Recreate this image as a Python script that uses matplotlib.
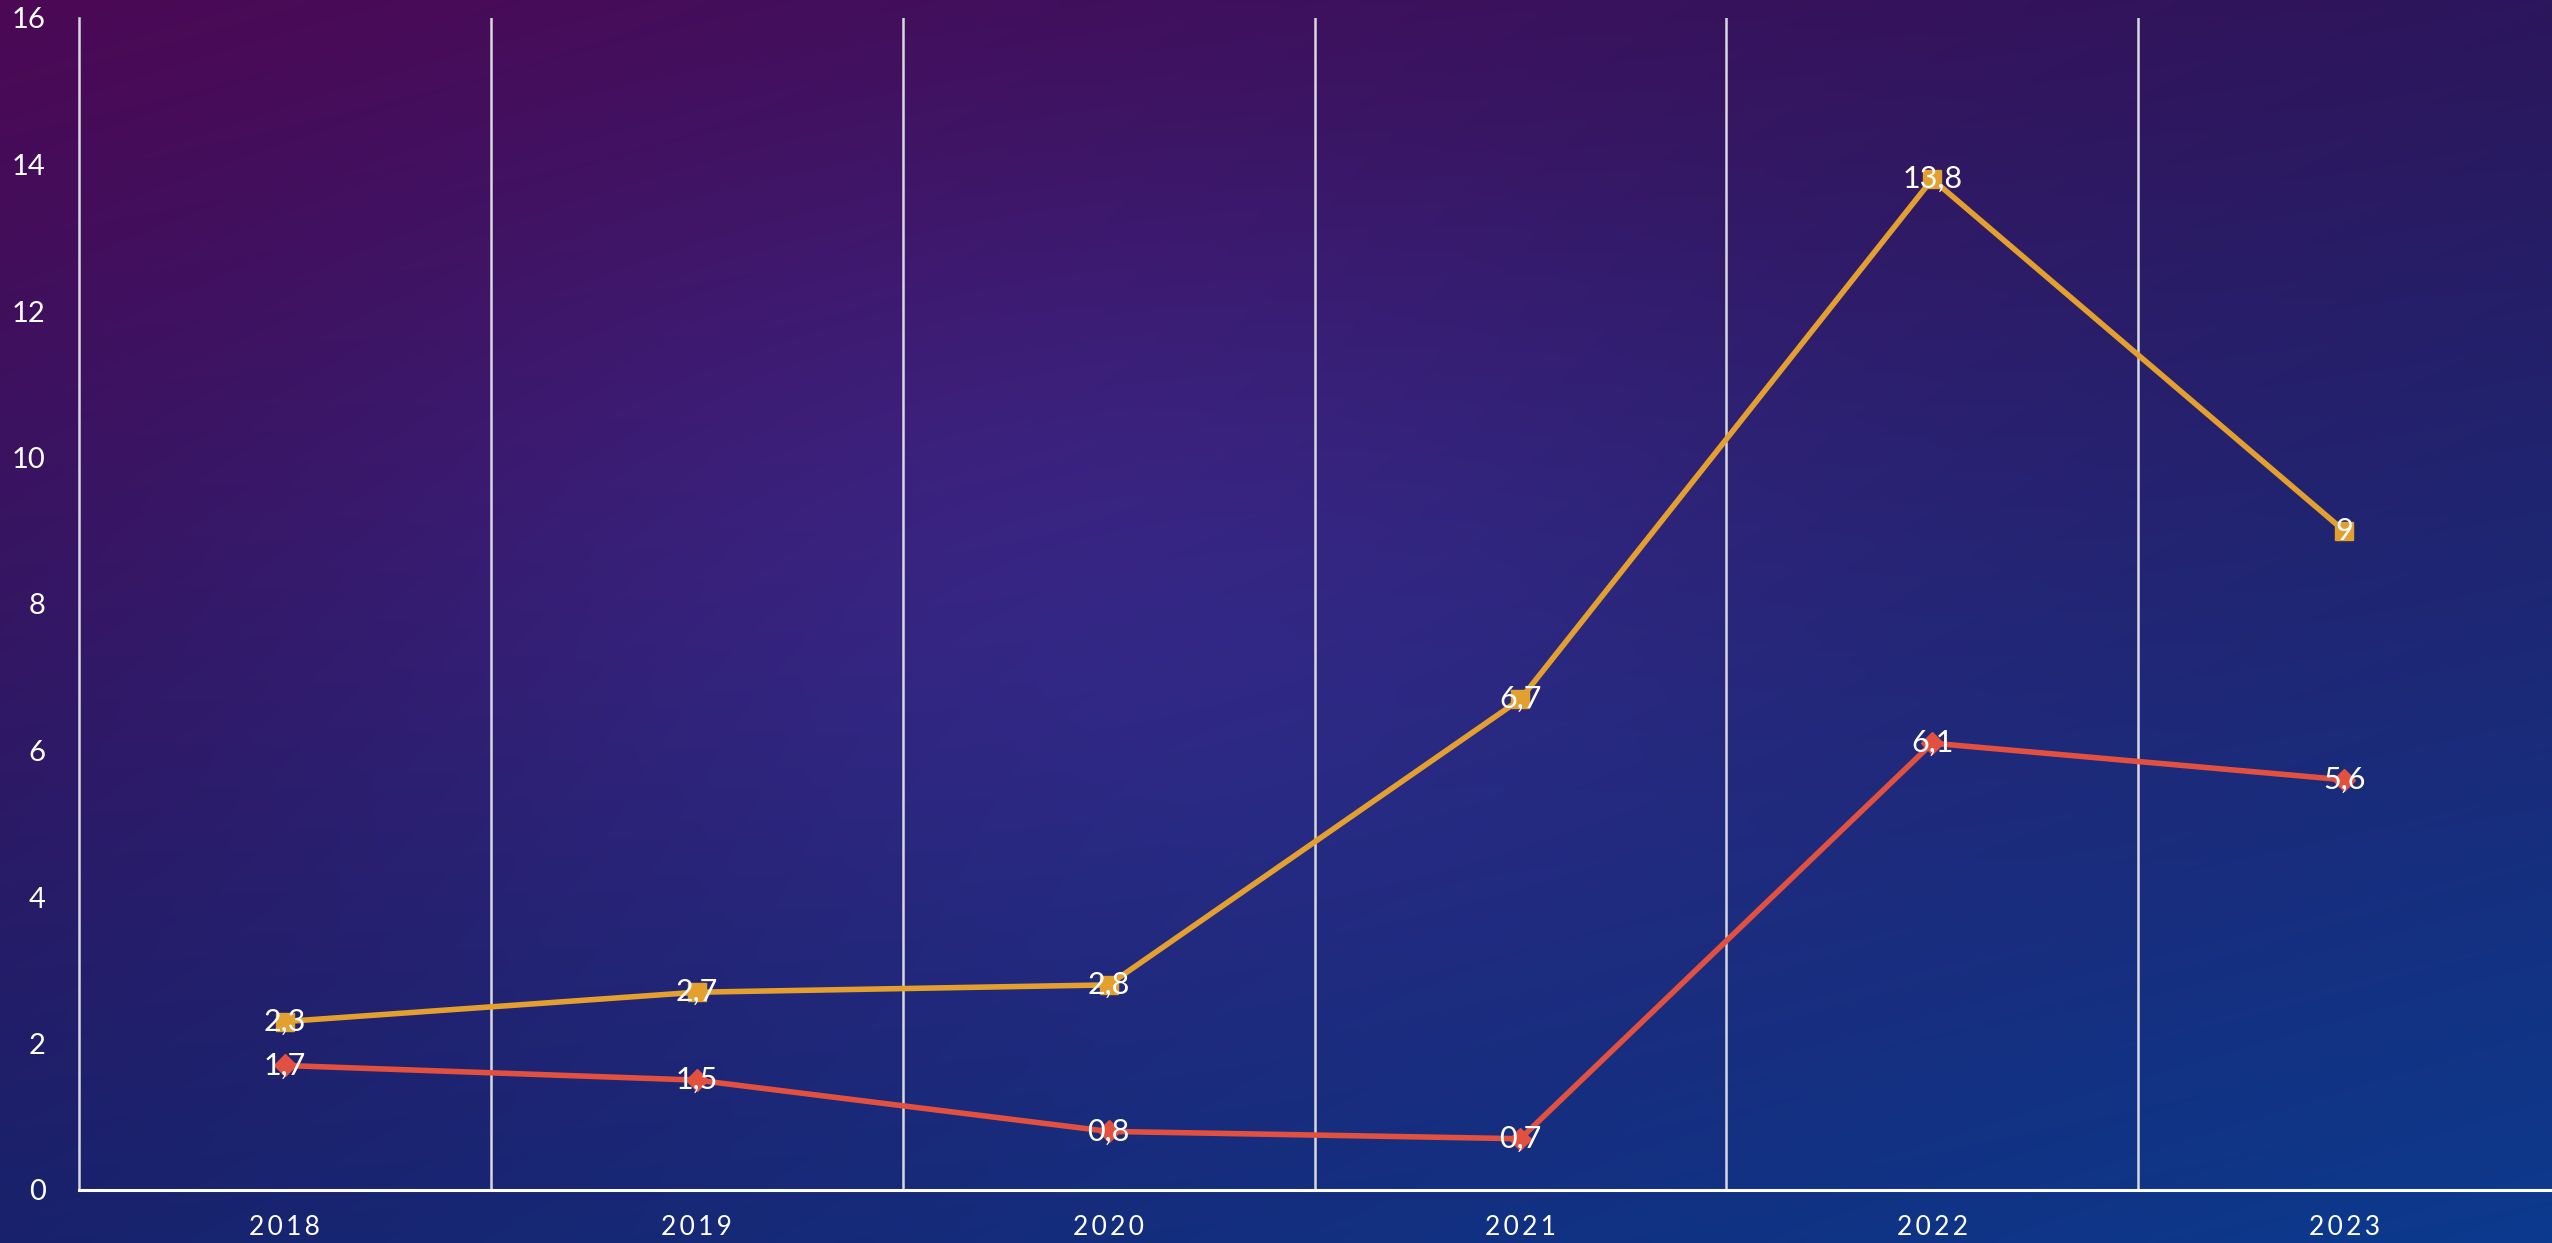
import numpy as np
import matplotlib
matplotlib.use("Agg")
import matplotlib.pyplot as plt

years = ["2018", "2019", "2020", "2021", "2022", "2023"]
series_orange = [2.3, 2.7, 2.8, 6.7, 13.8, 9]
series_red = [1.7, 1.5, 0.8, 0.7, 6.1, 5.6]
yticks = [0, 2, 4, 6, 8, 10, 12, 14, 16]

W, H = 2552, 1243
fig = plt.figure(figsize=(W / 100, H / 100), dpi=100)

# background gradient (purple top-left -> blue bottom-right)
bg = fig.add_axes([0, 0, 1, 1])
bg.set_axis_off()
ny, nx = 200, 400
yy, xx = np.mgrid[0:1:ny * 1j, 0:1:nx * 1j]
tl = np.array([76, 8, 84]) / 255
tr = np.array([44, 22, 92]) / 255
bl = np.array([24, 34, 108]) / 255
br = np.array([12, 58, 142]) / 255
img = (tl[None, None] * ((1 - xx) * (1 - yy))[..., None]
       + tr[None, None] * (xx * (1 - yy))[..., None]
       + bl[None, None] * ((1 - xx) * yy)[..., None]
       + br[None, None] * (xx * yy)[..., None])
# soft central glow
glow = np.exp(-(((xx - 0.42) / 0.3) ** 2 + ((yy - 0.45) / 0.35) ** 2))
img = img + glow[..., None] * np.array([12, 10, 28])[None, None] / 255
img = np.clip(img, 0, 1)
bg.imshow(img, aspect="auto", extent=[0, 1, 0, 1], interpolation="bilinear")
bg.set_xlim(0, 1)
bg.set_ylim(0, 1)

ax = fig.add_axes([79 / W, 1 - 1190 / H, (2550 - 79) / W, (1190 - 18) / H])
ax.set_facecolor("none")
x = np.arange(len(years))

orange = "#E3A02E"
red = "#E2513F"
ax.plot(x, series_orange, color=orange, lw=4, marker="s", ms=13, zorder=3)
ax.plot(x, series_red, color=red, lw=4, marker="D", ms=11, zorder=3)

font = ["Lato", "DejaVu Sans"]
for xi, v in zip(x, series_orange):
    ax.text(xi, v, f"{v:g}".replace(".", ","), color="white", fontsize=22,
            ha="center", va="center", family=font, zorder=4)
for xi, v in zip(x, series_red):
    ax.text(xi, v, f"{v:g}".replace(".", ","), color="white", fontsize=22,
            ha="center", va="center", family=font, zorder=4)

ax.set_xlim(-0.5, len(years) - 0.5)
ax.set_ylim(0, 16)
ax.set_yticks(yticks)
ax.set_yticklabels([str(t) for t in yticks], color="white", fontsize=21, family=font)
ax.set_xticks(x)
ax.set_xticklabels(["\u2009".join(y) for y in years], color="white", fontsize=19, family=font)
ax.tick_params(axis="both", length=0)
ax.tick_params(axis="y", pad=24)
ax.tick_params(axis="x", pad=18)

for b in np.arange(0.5, len(years) - 0.5, 1.0):
    ax.axvline(b, color="#d8d8e0", lw=1.8, zorder=1)

for s in ["top", "right"]:
    ax.spines[s].set_visible(False)
ax.spines["left"].set_color("#d8d8e0")
ax.spines["left"].set_linewidth(1.8)
ax.spines["bottom"].set_color("white")
ax.spines["bottom"].set_linewidth(2.2)

fig.savefig("out.png", dpi=100)
